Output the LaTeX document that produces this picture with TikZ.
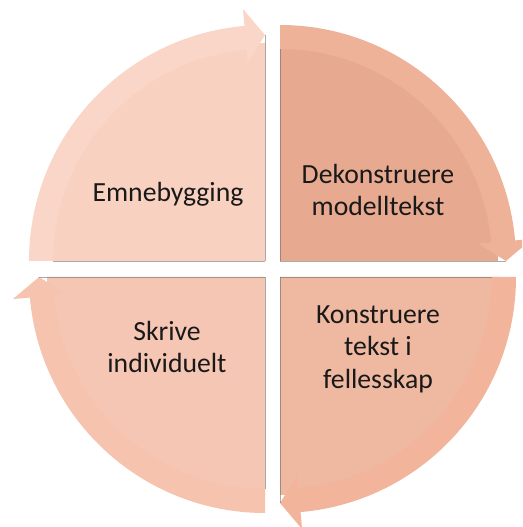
\documentclass[tikz,border=0pt]{standalone}
\usepackage{fontspec}
\setmainfont{Carlito}
\definecolor{tlDisc}{HTML}{F8D1C1}
\definecolor{tlBand}{HTML}{F9D6C8}
\definecolor{trDisc}{HTML}{E7AA90}
\definecolor{trBand}{HTML}{EEB299}
\definecolor{brDisc}{HTML}{EFB8A0}
\definecolor{brBand}{HTML}{F2B59B}
\definecolor{blDisc}{HTML}{F5C6B3}
\definecolor{blBand}{HTML}{F6C3AE}
\newcommand\quadpiece[5]{%
  % #1 corner, #2 start angle, #3 end angle, #4 disc colour, #5 band colour
  \begin{scope}[shift={#1}]
    \pgfmathsetmacro\barbang{#3+5}
    \fill[#4] (0,0) -- (#2:218) arc[start angle=#2,end angle=#3,radius=218] -- cycle;
    \fill[#5] (#2:236) arc[start angle=#2,end angle=\barbang,radius=236]
      -- (\barbang:253) -- (#3:226) -- (\barbang:199) -- (\barbang:212)
      arc[start angle=\barbang,end angle=#2,radius=212] -- cycle;
    \draw[edgeline] (0,0) -- (#3:226);
    \draw[edgeline] (0,0) -- (#2:212);
  \end{scope}}
\begin{document}
\begin{tikzpicture}[x=1pt,y=1pt,
  lbl/.style={font=\fontsize{27.7}{32.5}\selectfont, align=center, anchor=north, inner sep=0pt, text=black!90},
  edgeline/.style={draw=black!60, line width=0.8pt, opacity=0.55}]
\useasboundingbox (-272,-258) rectangle (250,269);
\clip (-272,-258) rectangle (250,269);
\quadpiece{(-7,8)}{180}{90}{tlDisc}{tlBand}
\quadpiece{(8,8)}{90}{0}{trDisc}{trBand}
\quadpiece{(8,-8)}{0}{-90}{brDisc}{brBand}
\quadpiece{(-7,-8)}{-90}{-180}{blDisc}{blBand}
\node[lbl] (emne) at (-104,93) {\rule{0pt}{25pt}Emnebygging};
\node[lbl] (dekon) at (106,111) {\rule{0pt}{25pt}Dekonstruere\\modelltekst};
\node[lbl] (konst) at (106,-29) {\rule{0pt}{25pt}Konstruere\\tekst i\\fellesskap};
\node[lbl] (skriv) at (-105,-46) {\rule{0pt}{25pt}Skrive\\individuelt};
\end{tikzpicture}
\end{document}
